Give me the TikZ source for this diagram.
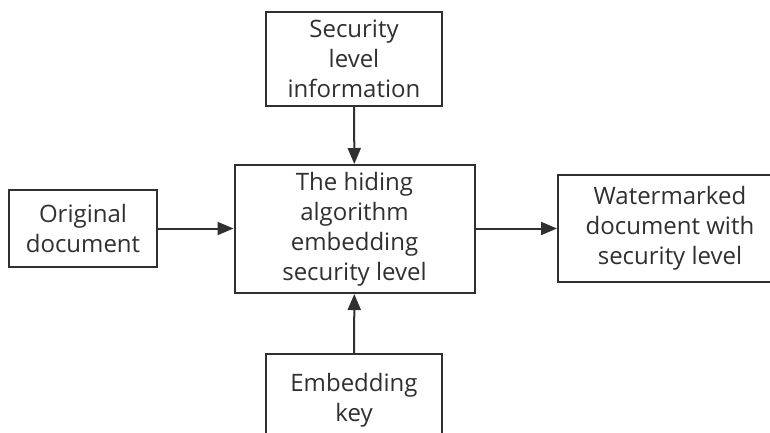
\documentclass[tikz,border=0pt]{standalone}
\usepackage{fontspec}
\setmainfont{Open Sans}
\usetikzlibrary{arrows.meta}
\definecolor{ink}{HTML}{303030}
\begin{document}
\begin{tikzpicture}[x=1pt,y=-1pt,
  box/.style={draw=ink, line width=2pt, fill=white, align=center, inner sep=0pt,
    font=\fontsize{24}{30}\selectfont, text=ink},
  flow/.style={draw=ink, line width=2pt, -{Triangle[length=16pt,width=13pt]}}]
  \useasboundingbox (0,0) rectangle (770,432);
  \clip (0,0) rectangle (770,432);
  % processing step in the middle
  \node[box, minimum width=240pt, minimum height=128pt] (algo) at (354.5,229)
    {The hiding\\algorithm\\embedding\\security level};
  % inputs
  \node[box, minimum width=176pt, minimum height=94pt] (info) at (354,59)
    {Security\\level\\information};
  \node[box, minimum width=148pt, minimum height=77pt] (orig) at (83,228.5)
    {Original\\document};
  \node[box, minimum width=176pt, minimum height=92pt] (key) at (354,400)
    {Embedding\\key};
  % output
  \node[box, minimum width=224pt, minimum height=107pt] (out) at (670,228.5)
    {Watermarked\\document with\\security level};
  % connectors
  \draw[flow] (info) -- (algo);
  \draw[flow] (key) -- (algo);
  \draw[flow] (orig) -- (orig -| algo.west);
  \draw[flow] (algo.east |- out) -- (out);
\end{tikzpicture}
\end{document}
